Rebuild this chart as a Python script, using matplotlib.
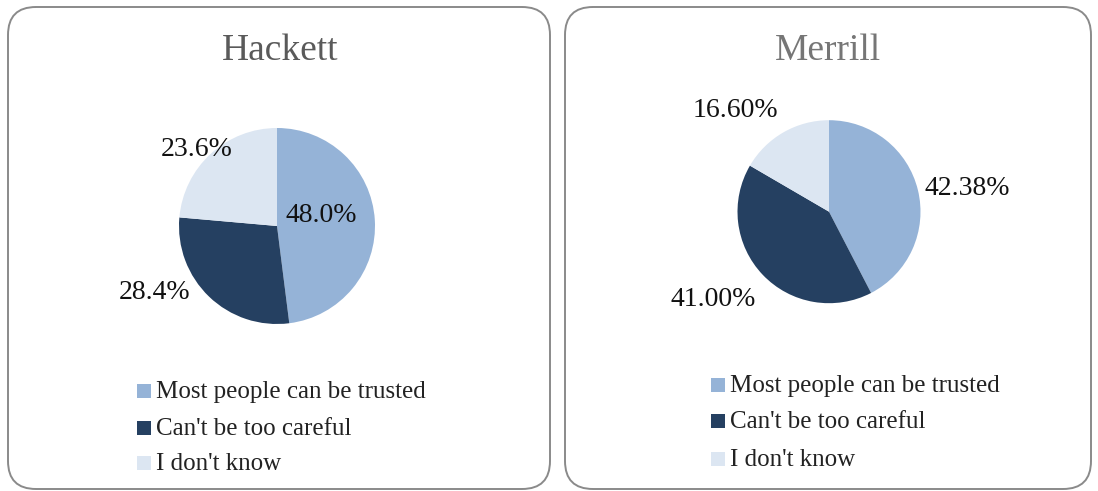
import matplotlib
matplotlib.use("Agg")
import matplotlib.pyplot as plt
from matplotlib.patches import FancyBboxPatch, Rectangle

# ---- data ----
categories = ["Most people can be trusted", "Can't be too careful", "I don't know"]
hackett_values = [48.0, 28.4, 23.6]
merrill_values = [42.38, 41.00, 16.60]
chart_titles = ["Hackett", "Merrill"]
label_formats = ["{:.1f}%", "{:.2f}%"]

colors = ["#95B3D7", "#254061", "#DCE6F2"]

W, H = 1098, 491
DPI = 100
FONT = "Liberation Serif"

fig = plt.figure(figsize=(W / DPI, H / DPI), dpi=DPI)
fig.patch.set_facecolor("white")

# Background layer in pixel coordinates (origin top-left)
bg = fig.add_axes([0, 0, 1, 1])
bg.set_xlim(0, W)
bg.set_ylim(H, 0)
bg.axis("off")

# Panel frames
panels = [(8, 7, 542, 482), (565, 7, 526, 482)]
for (x, y, w, h) in panels:
    box = FancyBboxPatch((x, y), w, h,
                         boxstyle="round,pad=0,rounding_size=28",
                         facecolor="white", edgecolor="#8a8a8a", linewidth=1.4)
    bg.add_patch(box)

# Pie geometry: centre (px, from top) and radius (px)
pie_geom = [((277, 226), 98), ((829, 211.7), 91.5)]
title_pos = [(280, 60), (827.5, 60)]
title_colors = ["#5a5a5a", "#767676"]

# Data label anchor points in pie units (x, baseline y)
label_pos = [
    [(0.449, 0.044), (-1.250, -0.748), (-0.824, 0.714)],
    [(1.508, 0.183), (-1.268, -1.031), (-1.025, 1.032)],
]

# Legend placement: square left edge, text left edge, row baselines
legend_layout = [
    (137, 156, [398, 435, 470]),
    (711, 730, [392, 428, 466]),
]

series = [hackett_values, merrill_values]

for i, vals in enumerate(series):
    (cx, cy), r = pie_geom[i]
    ax = fig.add_axes([(cx - r) / W, (H - cy - r) / H, 2 * r / W, 2 * r / H])
    ax.pie(vals, colors=colors, startangle=90, counterclock=False,
           radius=1.0, wedgeprops=dict(linewidth=0))
    ax.set_xlim(-1, 1)
    ax.set_ylim(-1, 1)
    ax.set_aspect("equal")
    ax.axis("off")

    for v, (lx, ly) in zip(vals, label_pos[i]):
        ax.text(lx, ly, label_formats[i].format(v), ha="center", va="baseline",
                fontsize=20, family=FONT, color="#111111")

    tx, ty = title_pos[i]
    bg.text(tx, ty, chart_titles[i], ha="center", va="baseline",
            fontsize=27, family=FONT, color=title_colors[i])

    sx, txl, rows = legend_layout[i]
    for cat, col, base in zip(categories, colors, rows):
        bg.add_patch(Rectangle((sx, base - 14), 13.5, 13.5,
                               facecolor=col, edgecolor="none"))
        bg.text(txl, base, cat, ha="left", va="baseline",
                fontsize=18, family=FONT, color="#222222")

fig.savefig("out.png", dpi=DPI, facecolor="white")
